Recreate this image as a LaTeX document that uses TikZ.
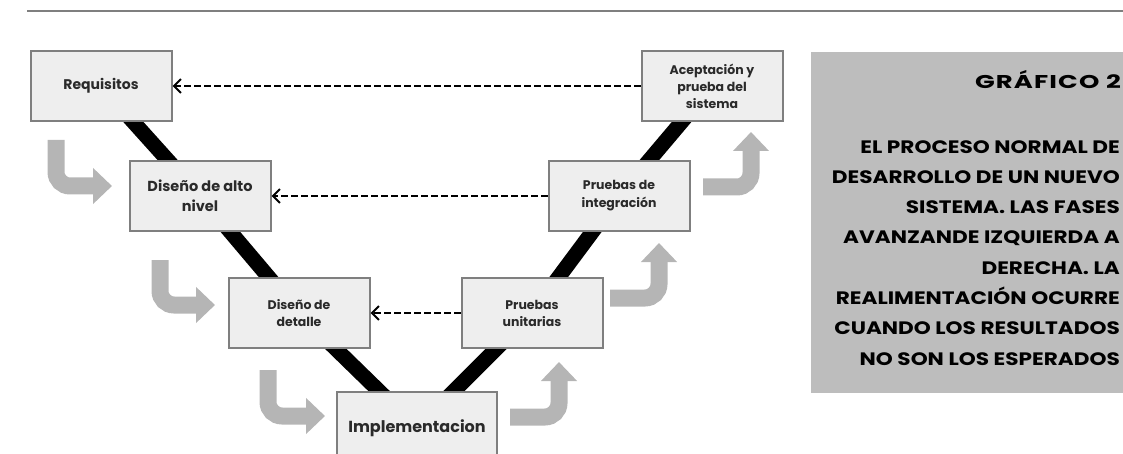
\documentclass[tikz,border=0pt]{standalone}
\usepackage{fontspec}
\setmainfont{Poppins}
\newfontfamily\panelfont{Poppins}[FakeStretch=1.2]
\newfontfamily\titlefont{Poppins}[FakeStretch=1.4, LetterSpace=6]
\usetikzlibrary{arrows.meta,backgrounds}
\definecolor{vpanel}{HTML}{BDBDBD}
\definecolor{vbox}{HTML}{EEEEEE}
\definecolor{vedge}{HTML}{7F7F7F}
\definecolor{vflow}{HTML}{B5B5B5}
\definecolor{vtext}{HTML}{2A2A2A}

\begin{document}
\begin{tikzpicture}[x=1pt, y=-1pt,
  phase/.style={draw=vedge, line width=2pt, fill=vbox, minimum width=141pt, minimum height=70pt, inner sep=2pt, align=center, text=vtext},
  vleg/.style={line width=15pt, black},
  redo/.style={line width=2pt, dash pattern=on 7pt off 3pt, -{Straight Barb[length=7pt,width=14pt]}},
  flow/.style={vflow, line width=17pt, rounded corners=14pt, -{Triangle[length=19pt,width=35pt]}}]
  \useasboundingbox (0,0) rectangle (1123,454);
  \draw[vedge, line width=1.5pt] (27,11) -- (1123,11);
  % the V
  \node[phase, font=\bfseries\fontsize{14}{17}\selectfont] (req) at (101,86) {Requisitos};
  \node[phase, font=\bfseries\fontsize{14.5}{20}\selectfont] (alto) at (200,196) {Diseño de alto\\nivel};
  \node[phase, font=\bfseries\fontsize{12.5}{17}\selectfont] (detalle) at (299,313) {Diseño de\\detalle};
  \node[phase, minimum width=160pt, minimum height=72pt, font=\bfseries\fontsize{16}{20}\selectfont] (impl) at (417,428) {Implementacion};
  \node[phase, font=\bfseries\fontsize{12.5}{17}\selectfont] (unit) at (532,313) {Pruebas\\unitarias};
  \node[phase, font=\bfseries\fontsize{12.5}{18}\selectfont] (integr) at (619,196) {Pruebas de\\integración};
  \node[phase, font=\bfseries\fontsize{12.5}{17}\selectfont] (acept) at (712,86) {Aceptación y\\prueba del\\sistema};
  \begin{scope}[on background layer]
    \draw[vleg] (req.center) -- (alto.center) -- (detalle.center) -- (impl.center)
      -- (unit.center) -- (integr.center) -- (acept.center);
  \end{scope}
  % feedback
  \draw[redo] (acept.west) -- (req.east);
  \draw[redo] (integr.west) -- (alto.east);
  \draw[redo] (unit.west) -- (detalle.east);
  % gray bent arrows
  \draw[flow] (56,140) |- (112,186);
  \draw[flow] (160,260) |- (215,305);
  \draw[flow] (268,370) |- (325,416);
  \draw[flow] (510,417) -| (559,362);
  \draw[flow] (610,298) -| (659,243);
  \draw[flow] (703,187) -| (751,132);
  % caption panel
  \fill[vpanel] (811,52) rectangle (1123,393);
  \node[anchor=east, inner sep=0, font=\titlefont\bfseries\fontsize{18.5}{30}\selectfont] (title) at (1121,80) {GRÁFICO 2};
  \node[anchor=north east, inner sep=0, align=right, font=\panelfont\bfseries\fontsize{18}{30.3}\selectfont] (caption) at (1120,140)
    {EL PROCESO NORMAL DE\\DESARROLLO DE UN NUEVO\\SISTEMA. LAS FASES\\AVANZANDE IZQUIERDA A\\DERECHA. LA\\REALIMENTACIÓN OCURRE\\CUANDO LOS RESULTADOS\\NO SON LOS ESPERADOS};
\end{tikzpicture}
\end{document}
